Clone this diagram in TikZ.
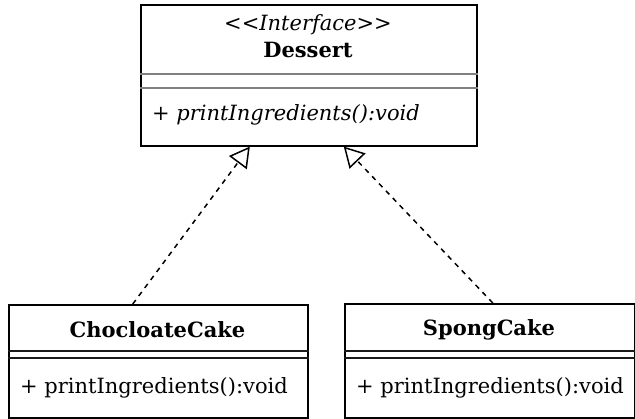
\documentclass[tikz,border=0pt]{standalone}
\usepackage{fontspec}
\setmainfont{DejaVu Serif}[Ligatures=TeXOff]
\usetikzlibrary{arrows.meta}
\begin{document}
\begin{tikzpicture}[x=1pt,y=1pt,
  box/.style={draw=black, line width=1.6pt, rectangle, inner sep=0pt, anchor=north west},
  txt/.style={inner sep=0pt, font=\fontsize{21}{25}\selectfont},
  greysep/.style={draw=black!50, line width=1.5pt},
  blacksep/.style={draw=black!90, line width=1.5pt},
  realize/.style={line width=1.5pt, dash pattern=on 5pt off 5pt,
    -{Triangle[open, length=20pt, width=22pt, line width=1.5pt]}}]
\useasboundingbox (0,0) rectangle (635,418);
% Dessert interface
\node[box, minimum width=336pt, minimum height=141pt] (dessert) at (140,414) {};
\node[txt, font=\fontsize{21}{25}\selectfont\itshape] (stereo) at (308,393) {<<Interface>>};
\node[txt, font=\fontsize{21}{25}\selectfont\bfseries] (dname) at (308,368) {Dessert};
\draw[greysep] (dessert.west |- 0,344) -- (dessert.east |- 0,344);
\draw[greysep] (dessert.west |- 0,330) -- (dessert.east |- 0,330);
\node[txt, anchor=west, font=\fontsize{21}{25}\selectfont\itshape] (dmeth) at (152,303) {+ printIngredients():void};
% ChocloateCake
\node[box, minimum width=299pt, minimum height=113pt] (cc) at (8,114) {};
\node[txt, font=\fontsize{21}{25}\selectfont\bfseries] (ccname) at (157.5,88) {ChocloateCake};
\draw[blacksep] (cc.west |- 0,67) -- (cc.east |- 0,67);
\draw[blacksep] (cc.west |- 0,60) -- (cc.east |- 0,60);
\node[txt, anchor=west] (ccmeth) at (20,30) {+ printIngredients():void};
% SpongCake
\node[box, minimum width=290pt, minimum height=114pt] (sc) at (344,115) {};
\node[txt, font=\fontsize{21}{25}\selectfont\bfseries] (scname) at (489,88) {SpongCake};
\draw[blacksep] (sc.west |- 0,67) -- (sc.east |- 0,67);
\draw[blacksep] (sc.west |- 0,60) -- (sc.east |- 0,60);
\node[txt, anchor=west] (scmeth) at (356,30) {+ printIngredients():void};
% realizations
\draw[realize] ([xshift=-25.5pt]cc.north) -- ([xshift=-59pt]dessert.south);
\draw[realize] ([xshift=3pt]sc.north) -- ([xshift=35pt]dessert.south);
\end{tikzpicture}
\end{document}
